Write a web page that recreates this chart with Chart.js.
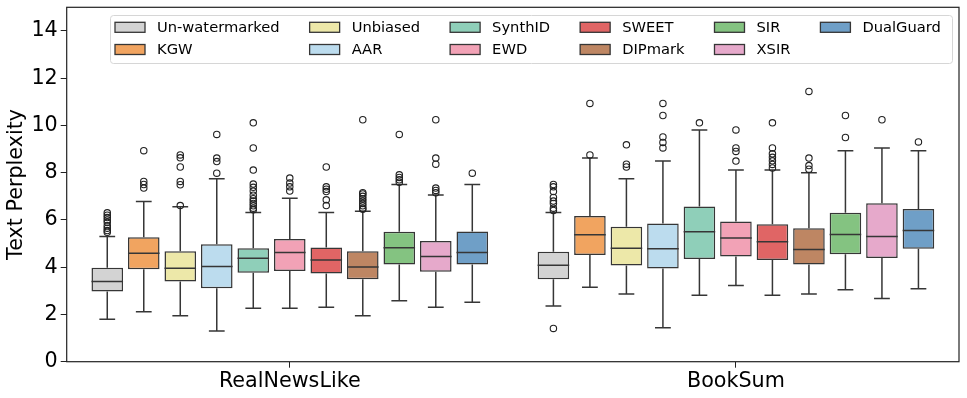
<!DOCTYPE html>
<html>
<head>
<meta charset="utf-8">
<script src="https://cdn.jsdelivr.net/npm/chart.js@4.4.0/dist/chart.umd.min.js"></script>
<style>
  html, body { margin: 0; padding: 0; background: #fff; }
  #wrap { width: 967px; height: 398px; }
</style>
</head>
<body>
<div id="wrap"><canvas id="chart" width="967" height="398"></canvas></div>
<script>
const categories = ['RealNewsLike', 'BookSum'];
const methods = ['Un-watermarked', 'KGW', 'Unbiased', 'AAR', 'SynthID', 'EWD',
                 'SWEET', 'DIPmark', 'SIR', 'XSIR', 'DualGuard'];
const colors = ['#d3d3d3', '#f1a460', '#ede8a9', '#bcdcee', '#8fcfb9', '#f2a2b6',
                '#e06565', '#be8663', '#84c381', '#e6a9cb', '#6f9fc7'];
const yTicks = [0, 2, 4, 6, 8, 10, 12, 14];

// RealNewsLike
const newsLo  = [1.80, 2.11, 1.95, 1.30, 2.26, 2.26, 2.30, 1.95, 2.58, 2.30, 2.52];
const newsQ1  = [2.97, 3.91, 3.39, 3.11, 3.77, 3.84, 3.73, 3.49, 4.11, 3.81, 4.11];
const newsMed = [3.39, 4.59, 3.96, 4.03, 4.38, 4.62, 4.30, 4.01, 4.82, 4.45, 4.62];
const newsQ3  = [3.98, 5.27, 4.68, 4.97, 4.80, 5.19, 4.83, 4.68, 5.50, 5.11, 5.51];
const newsHi  = [5.30, 6.78, 6.56, 7.74, 6.31, 6.92, 6.31, 6.37, 7.50, 7.06, 7.50];
const newsOut = [
  [6.30, 6.20, 6.10, 6.00, 5.90, 5.75, 5.65, 5.55, 5.48],
  [8.93, 7.63, 7.50, 7.35],
  [8.75, 8.63, 8.24, 7.63, 7.49, 6.61],
  [9.62, 8.62, 8.47, 7.98],
  [10.11, 9.05, 8.11, 7.52, 7.38, 7.22, 7.05, 6.90, 6.80, 6.70, 6.60, 6.50, 6.43],
  [7.77, 7.56, 7.40, 7.22],
  [8.24, 7.40, 7.30, 7.20, 6.85, 6.61],
  [10.24, 7.15, 7.10, 7.00, 6.90, 6.80, 6.70, 6.60, 6.50, 6.45],
  [9.62, 7.91, 7.80, 7.70, 7.60],
  [10.24, 8.62, 8.36, 7.35, 7.25, 7.15],
  [7.98]
];

// BookSum
const bookLo  = [2.36, 3.15, 2.87, 1.44, 2.81, 3.22, 2.81, 2.87, 3.05, 2.67, 3.09];
const bookQ1  = [3.49, 4.52, 4.07, 3.94, 4.35, 4.45, 4.30, 4.11, 4.55, 4.39, 4.78];
const bookMed = [4.08, 5.37, 4.80, 4.78, 5.50, 5.24, 5.08, 4.75, 5.38, 5.30, 5.55];
const bookQ3  = [4.65, 6.17, 5.71, 5.85, 6.57, 5.93, 5.82, 5.65, 6.30, 6.71, 6.46];
const bookHi  = [6.31, 8.62, 7.74, 8.49, 9.81, 8.11, 8.11, 8.00, 8.93, 9.05, 8.93];
const bookOut = [
  [1.41, 7.50, 7.40, 7.20, 6.95, 6.80, 6.70, 6.50, 6.40],
  [10.93, 8.75],
  [9.18, 8.36, 8.24],
  [10.93, 10.42, 9.51, 9.28, 9.05],
  [10.11],
  [9.81, 9.05, 8.90, 8.49],
  [10.11, 9.05, 8.80, 8.65, 8.50, 8.35, 8.20],
  [11.44, 8.62, 8.30, 8.15],
  [10.42, 9.49],
  [10.24],
  [9.30]
];

const groups = [
  { lo: newsLo, q1: newsQ1, med: newsMed, q3: newsQ3, hi: newsHi, out: newsOut },
  { lo: bookLo, q1: bookQ1, med: bookMed, q3: bookQ3, hi: bookHi, out: bookOut }
];

const lineColor = '#363636';
const FONT = 'DejaVu Sans';

const boxExtras = {
  id: 'boxExtras',
  afterDatasetsDraw(chart) {
    const ctx = chart.ctx, y = chart.scales.y;
    ctx.save();
    ctx.strokeStyle = lineColor;
    ctx.lineWidth = 1.5;
    ctx.lineCap = 'butt';
    chart.data.datasets.forEach((ds, i) => {
      chart.getDatasetMeta(i).data.forEach((bar, j) => {
        const g = groups[j];
        const x = bar.x, half = bar.width / 2, cap = bar.width / 4;
        const pLo = y.getPixelForValue(g.lo[i]);
        const pQ1 = y.getPixelForValue(g.q1[i]);
        const pQ3 = y.getPixelForValue(g.q3[i]);
        const pHi = y.getPixelForValue(g.hi[i]);
        const pMed = y.getPixelForValue(g.med[i]);
        ctx.beginPath();
        ctx.moveTo(x, pQ1); ctx.lineTo(x, pLo);
        ctx.moveTo(x, pQ3); ctx.lineTo(x, pHi);
        ctx.moveTo(x - cap, pLo); ctx.lineTo(x + cap, pLo);
        ctx.moveTo(x - cap, pHi); ctx.lineTo(x + cap, pHi);
        ctx.moveTo(x - half, pMed); ctx.lineTo(x + half, pMed);
        ctx.stroke();
        ctx.save();
        ctx.lineWidth = 1.1;
        ctx.strokeStyle = '#222';
        g.out[i].forEach(v => {
          ctx.beginPath();
          ctx.arc(x, y.getPixelForValue(v), 3.2, 0, Math.PI * 2);
          ctx.stroke();
        });
        ctx.restore();
      });
    });
    ctx.restore();
  }
};

const frameAndLegend = {
  id: 'frameAndLegend',
  afterDraw(chart) {
    const ctx = chart.ctx, a = chart.chartArea;
    ctx.save();
    ctx.strokeStyle = '#222';
    ctx.lineWidth = 1.2;
    ctx.strokeRect(a.left, a.top, a.right - a.left, a.bottom - a.top);

    // legend, 6 columns filled top to bottom like matplotlib
    const lx = 110, ly = 15, lw = 842, lh = 48;
    ctx.fillStyle = 'rgba(255,255,255,0.8)';
    ctx.strokeStyle = '#d6d6d6';
    ctx.lineWidth = 1;
    ctx.beginPath();
    ctx.roundRect(lx + 0.5, ly + 0.5, lw, lh, 3);
    ctx.fill();
    ctx.stroke();

    ctx.font = '14.7px "' + FONT + '"';
    ctx.textBaseline = 'middle';
    const rows = [27.3, 49.5];
    let x = 115;
    const ds = chart.data.datasets;
    for (let c = 0; c * 2 < ds.length; c++) {
      let maxW = 0;
      for (let r = 0; r < 2; r++) {
        const k = c * 2 + r;
        if (k >= ds.length) break;
        const cy = rows[r];
        ctx.fillStyle = ds[k].backgroundColor;
        ctx.fillRect(x, cy - 5, 30, 10);
        ctx.strokeStyle = lineColor;
        ctx.lineWidth = 1.3;
        ctx.strokeRect(x, cy - 5, 30, 10);
        ctx.fillStyle = '#000';
        ctx.fillText(ds[k].label, x + 42, cy + 0.5);
        maxW = Math.max(maxW, ctx.measureText(ds[k].label).width);
      }
      x += 42 + maxW + 30;
    }
    ctx.restore();
  }
};

new Chart(document.getElementById('chart'), {
  type: 'bar',
  data: {
    labels: categories,
    datasets: methods.map((m, i) => ({
      label: m,
      data: groups.map(g => [g.q1[i], g.q3[i]]),
      backgroundColor: colors[i],
      borderColor: lineColor,
      borderWidth: 1.5,
      borderSkipped: false,
      categoryPercentage: 0.9,
      barPercentage: 0.865
    }))
  },
  options: {
    responsive: false,
    animation: false,
    events: [],
    layout: { padding: { top: 7.3, right: 8, left: 0, bottom: 0 } },
    plugins: { legend: { display: false }, tooltip: { enabled: false } },
    scales: {
      x: {
        grid: { display: true, drawOnChartArea: false, offset: false, tickLength: 6, color: '#222', tickColor: '#222' },
        border: { display: false },
        ticks: { color: '#000', font: { family: FONT, size: 20.7 }, padding: 1 },
        afterFit(s) { s.height = 36.3; s.paddingLeft = 0; s.paddingRight = 0; }
      },
      y: {
        min: 0,
        max: 15,
        afterBuildTicks(s) { s.ticks = yTicks.map(v => ({ value: v })); },
        grid: { display: true, drawOnChartArea: false, tickLength: 6, color: '#222', tickColor: '#222' },
        border: { display: false },
        ticks: { color: '#000', font: { family: FONT, size: 20.7 }, padding: 3 },
        title: { display: true, text: 'Text Perplexity', color: '#000', font: { family: FONT, size: 20.7 }, padding: { top: 4, bottom: 0 } },
        afterFit(s) { s.width = 66.7; s.paddingTop = 0; s.paddingBottom = 0; }
      }
    }
  },
  plugins: [boxExtras, frameAndLegend]
});
</script>
</body>
</html>
